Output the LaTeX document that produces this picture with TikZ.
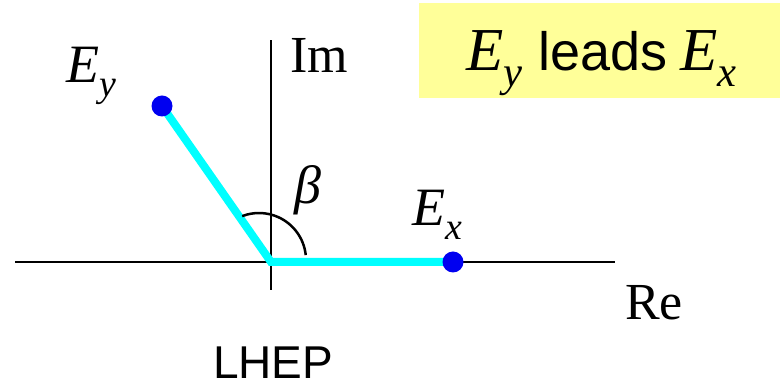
\documentclass[tikz,border=0pt]{standalone}
\usepackage{fontspec}
\setmainfont{Liberation Serif}
\setsansfont{Liberation Sans}
\definecolor{boxyellow}{HTML}{FFFF99}
\definecolor{vecCyan}{HTML}{00FFFF}
\definecolor{dotBlue}{HTML}{0000F0}
\newcommand{\Esub}[1]{\textit{E}\raisebox{-0.25em}{\scalebox{0.7}{\itshape #1}}}
\tikzset{
  axisline/.style={line width=2.5pt,black},
  vecline/.style={line width=8pt,vecCyan,line join=miter},
  dotnode/.style={circle,fill=dotBlue,inner sep=0pt,minimum size=21pt},
  lbl/.style={inner sep=0pt,anchor=base west},
}
\begin{document}
\begin{tikzpicture}[x=1pt,y=1pt]
\useasboundingbox (0,0) rectangle (780,388);
% title box
\node[fill=boxyellow,inner sep=0pt,minimum width=361pt,minimum height=95pt,anchor=north west] (title) at (419,385) {};
\node[lbl] (titletext) at (466,317) {\fontsize{61}{70}\selectfont\Esub{y}\hspace{16pt}{\sffamily\fontsize{54}{60}\selectfont leads}\hspace{13pt}\Esub{x}};
% axes
\coordinate (xl) at (15,126);
\coordinate (xr) at (615,126);
\coordinate (yt) at (271,348);
\coordinate (yb) at (271,98);
\draw[axisline] (xl) -- (xr);
\draw[axisline] (yb) -- (yt);
% vectors
\coordinate (O) at (271,126);
\coordinate (pEy) at (162,282);
\coordinate (pEx) at (453,126);
\draw[vecline] (pEy) -- (O) -- (pEx);
\node[dotnode] (eydot) at (pEy) {};
\node[dotnode] (exdot) at (pEx) {};
% angle arc
\coordinate (arcc) at (259,128);
\draw[line width=2.5pt] ([shift={(6:47)}]arcc) arc[start angle=6,end angle=111,radius=47];
% labels
\node[lbl] (im) at (290,315) {\fontsize{52}{60}\selectfont Im};
\node[lbl] (re) at (625,68) {\fontsize{52}{60}\selectfont Re};
\node[lbl] (eylabel) at (66,305) {\fontsize{54}{60}\selectfont\Esub{y}};
\node[lbl] (exlabel) at (412,162) {\fontsize{54}{60}\selectfont\Esub{x}};
\node[inner sep=0pt] (beta) at (308,198) {\fontsize{54}{60}\selectfont\textit{β}};
\node[lbl] (lhep) at (213,9) {\sffamily\fontsize{46}{54}\selectfont LHEP};
\end{tikzpicture}
\end{document}
